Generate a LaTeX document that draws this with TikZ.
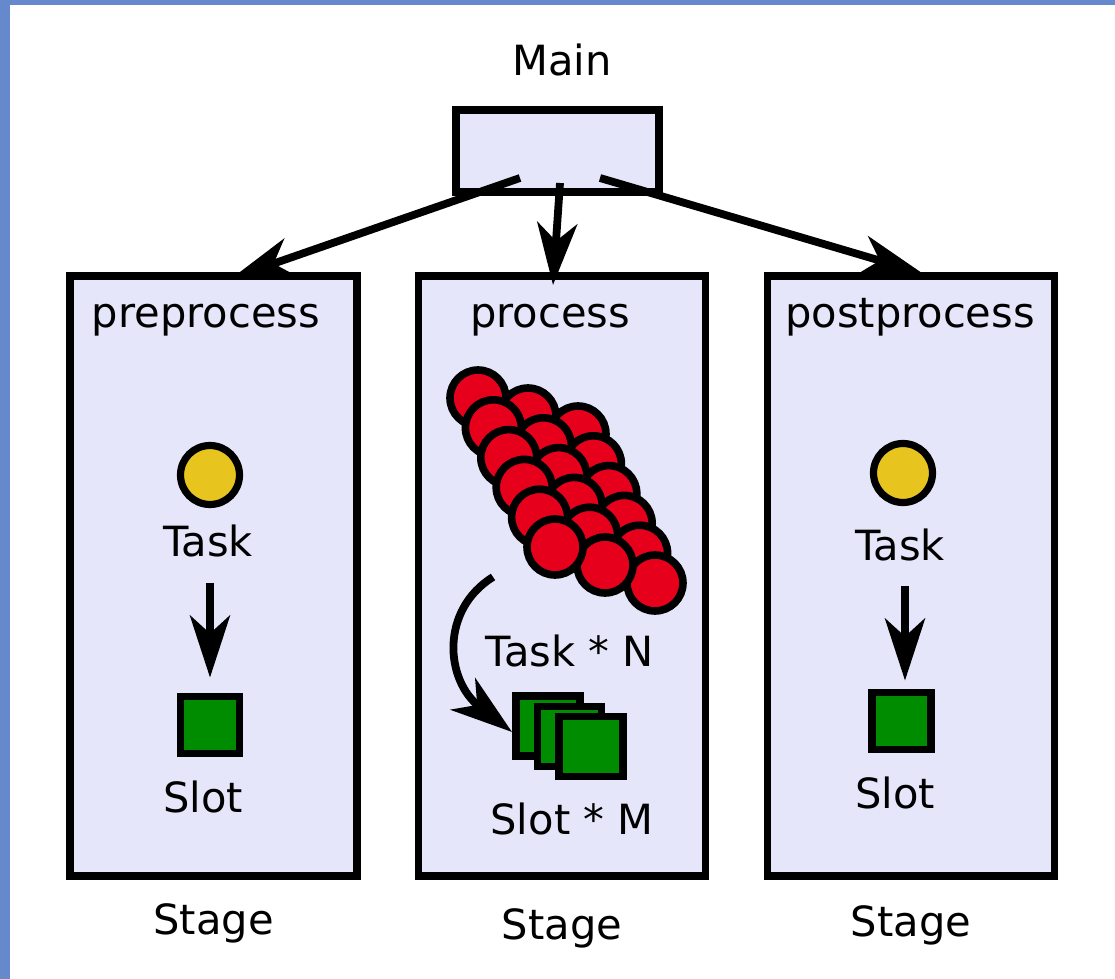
\documentclass[tikz,border=0pt]{standalone}
\usepackage{fontspec}
\setmainfont{DejaVu Sans}
\usetikzlibrary{calc,positioning,arrows.meta}
\definecolor{StageFill}{RGB}{230,230,250}
\definecolor{FrameBlue}{RGB}{102,136,204}
\definecolor{TaskYellow}{RGB}{232,196,30}
\definecolor{TaskRed}{RGB}{230,0,28}
\definecolor{SlotGreen}{RGB}{0,140,0}

\begin{document}
\begin{tikzpicture}[x=0.5pt,y=-0.5pt,
  box/.style={draw,line width=3.6pt,fill=StageFill,inner sep=0pt,outer sep=0pt},
  lbl/.style={font=\fontsize{20.8}{25}\selectfont,anchor=base,inner sep=0pt},
  taskdot/.style={circle,draw,line width=3.6pt,fill=TaskYellow,minimum size=29.5pt,inner sep=0pt,outer sep=0pt},
  slotsq/.style={draw,line width=3.8pt,fill=SlotGreen,inner sep=0pt,outer sep=0pt},
  flow/.style={line width=3.9pt,-{Stealth[length=31pt,width=20pt,inset=9pt]}}]
  \useasboundingbox (0,0) rectangle (1115,979);
  \fill[white] (0,0) rectangle (1115,979);
  \fill[FrameBlue] (0,0) rectangle (10,979);
  \fill[FrameBlue] (0,0) rectangle (1115,5);

  \node[box,minimum width=101.5pt,minimum height=41pt] (main) at (557.5,151) {};
  \node[lbl] (mainLbl) at (562,76) {Main};

  % the three stages
  \foreach \name/\x/\title/\tx/\sy in {pre/213.5/preprocess/206/934, mid/562/process/550/939, post/911/postprocess/910/936} {
    \node[box,minimum width=143.5pt,minimum height=300pt] (\name) at (\x,576) {};
    \node[lbl] (\name Title) at (\tx,327) {\title};
    \node[lbl] (\name Stage) at (\x,\sy) {Stage};
  }

  % single task -> slot
  \node[taskdot] (preTask) at (210,475) {};
  \node[lbl] (preTaskLbl) at (208,556) {Task};
  \node[slotsq,minimum width=29.5pt,minimum height=28.5pt] (preSlot) at (210,725) {};
  \node[lbl] (preSlotLbl) at (203,812) {Slot};
  \node[taskdot] (postTask) at (903,473) {};
  \node[lbl] (postTaskLbl) at (900,560) {Task};
  \node[slotsq,minimum width=29.5pt,minimum height=28.5pt] (postSlot) at (901.5,721) {};
  \node[lbl] (postSlotLbl) at (895,808) {Slot};

  % many tasks
  \foreach \c in {2,1,0}
    \foreach \r in {0,...,5}
      \filldraw[fill=TaskRed,line width=3.8pt] ({478+15.4*\r+50*\c},{398+29.8*\r+18*\c}) circle[radius=14pt];
  \coordinate (taskPile) at (555,547);
  \node[lbl] (midTaskLbl) at (570,666) {Task * N};
  \foreach \i in {0,1,2}
    \node[slotsq,minimum width=32pt,minimum height=30pt] (sq\i) at ({548+21.5*\i},{726+10.3*\i}) {};
  \node[lbl] (midSlotLbl) at (572,834) {Slot * M};

  % connectors
  \draw[flow] ($(main.south)+(-37.5,-14)$) -- ($(pre.north)+(18.5,2)$);
  \draw[flow] ($(main.south)+(2.5,-9)$) -- ($(mid.north)+(-9,9)$);
  \draw[flow] ($(main.south)+(42.5,-14)$) -- ($(post.north)+(11,-3)$);
  \draw[flow,shorten <=13pt,shorten >=9.5pt] (preTaskLbl.south -| preSlot.north) -- (preSlot.north);
  \draw[flow,shorten <=12.5pt,shorten >=6pt] ($(postTaskLbl.south -| postSlot.north)+(3.5,0)$) -- ($(postSlot.north)+(3.5,0)$);
  \draw[flow] ($(taskPile)+(-62,30)$) .. controls (440,610) and (445,680) .. ($(sq0.west)+(-4,6)$);
\end{tikzpicture}
\end{document}
